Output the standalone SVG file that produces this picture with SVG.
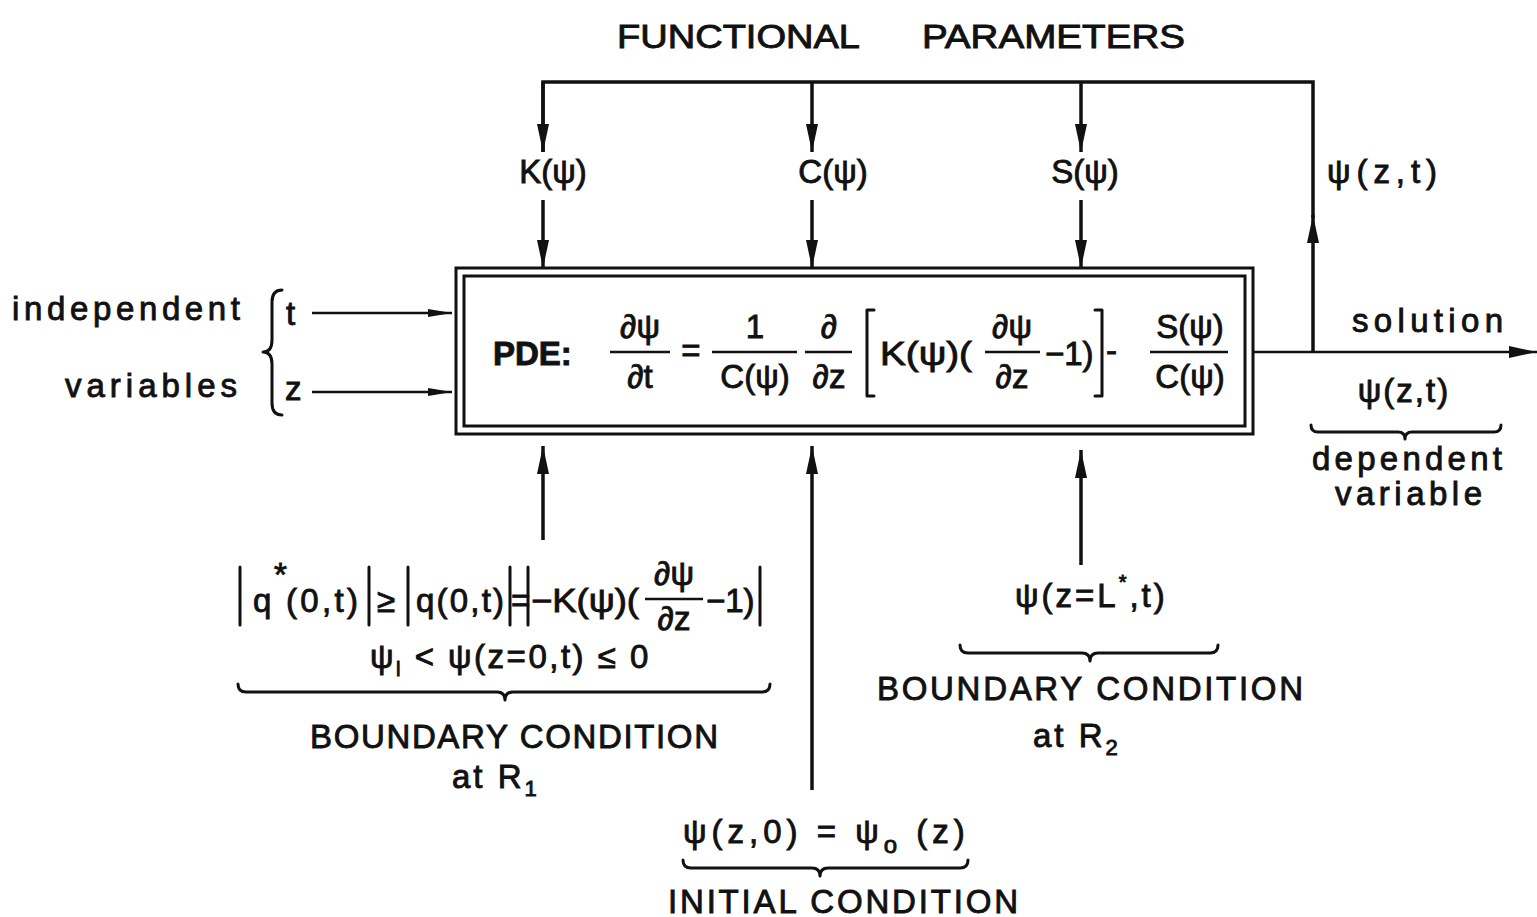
<svg xmlns="http://www.w3.org/2000/svg" width="1537" height="917" viewBox="0 0 1537 917">
<defs>
<style>
text{font-family:"Liberation Sans","DejaVu Sans",sans-serif;fill:#111;font-size:33px;stroke:#111;stroke-width:0.9}
.c{text-anchor:middle}
.b{font-weight:bold}
.ln{stroke:#111;stroke-width:3.5;fill:none}
.thin{stroke:#111;stroke-width:2.5;fill:none}
.br{stroke:#111;stroke-width:3;fill:none;stroke-linecap:round;stroke-linejoin:round}
.box{stroke:#111;stroke-width:3;fill:none}
</style>
<marker id="ah" markerUnits="userSpaceOnUse" markerWidth="30" markerHeight="14" refX="28" refY="7" orient="auto">
<path d="M0,1 L28,7 L0,13 z" fill="#111"/>
</marker>
<marker id="ahs" markerUnits="userSpaceOnUse" markerWidth="26" markerHeight="10" refX="24" refY="5" orient="auto">
<path d="M0,1 L24,5 L0,9 z" fill="#111"/>
</marker>
</defs>
<rect width="1537" height="917" fill="#fff"/>

<g id="connectors">
<path class="ln" d="M543,152 V82 H1313 V218"/>
<line class="ln" x1="543" y1="82" x2="543" y2="152" marker-end="url(#ah)"/>
<line class="ln" x1="812" y1="82" x2="812" y2="152" marker-end="url(#ah)"/>
<line class="ln" x1="1081" y1="82" x2="1081" y2="152" marker-end="url(#ah)"/>
<line class="ln" x1="543" y1="200" x2="543" y2="268" marker-end="url(#ah)"/>
<line class="ln" x1="812" y1="200" x2="812" y2="268" marker-end="url(#ah)"/>
<line class="ln" x1="1081" y1="200" x2="1081" y2="268" marker-end="url(#ah)"/>
<line class="ln" x1="1313" y1="352" x2="1313" y2="215" marker-end="url(#ah)"/>
<line class="thin" x1="1253" y1="352" x2="1537" y2="352" marker-end="url(#ah)"/>
<line class="thin" x1="312" y1="313" x2="452" y2="313" marker-end="url(#ahs)"/>
<line class="thin" x1="312" y1="392" x2="452" y2="392" marker-end="url(#ahs)"/>
<line class="ln" x1="543" y1="540" x2="543" y2="446" marker-end="url(#ah)"/>
<line class="ln" x1="812" y1="790" x2="812" y2="446" marker-end="url(#ah)"/>
<line class="ln" x1="1081" y1="565" x2="1081" y2="450" marker-end="url(#ah)"/>
</g>

<g id="title">
<text x="617" y="48" textLength="243" lengthAdjust="spacingAndGlyphs" font-size="34">FUNCTIONAL</text>
<text x="922" y="48" textLength="263" lengthAdjust="spacingAndGlyphs" font-size="34">PARAMETERS</text>
</g>

<g id="params">
<text x="553" y="183" class="c" font-size="34">K(ψ)</text>
<text x="833" y="183" class="c" font-size="34">C(ψ)</text>
<text x="1085" y="183" class="c" font-size="34">S(ψ)</text>
<text x="1327" y="183" textLength="110" lengthAdjust="spacing" font-size="34">ψ(z,t)</text>
</g>

<g id="pde-box">
<rect class="box" x="456" y="268" width="797" height="166"/>
<rect class="box" x="464" y="276" width="781" height="150"/>
<text x="493" y="365" class="b" font-size="35">PDE:</text>
<text x="640" y="338" class="c" font-size="35">∂ψ</text>
<line class="thin" x1="610" y1="352" x2="670" y2="352"/>
<text x="640" y="388" class="c" font-size="35">∂t</text>
<text x="691" y="362" class="c" font-size="30">=</text>
<text x="755" y="338" class="c" font-size="34">1</text>
<line class="thin" x1="712" y1="352" x2="797" y2="352"/>
<text x="755" y="388" class="c" font-size="35">C(ψ)</text>
<text x="829" y="338" class="c" font-size="35">∂</text>
<line class="thin" x1="805" y1="352" x2="852" y2="352"/>
<text x="829" y="388" class="c" font-size="35">∂z</text>
<path class="br" d="M874,310 H867 V396 H874"/>
<text x="880" y="365" font-size="33" textLength="92" lengthAdjust="spacingAndGlyphs">K(ψ)(</text>
<text x="1012" y="338" class="c" font-size="35">∂ψ</text>
<line class="thin" x1="985" y1="352" x2="1040" y2="352"/>
<text x="1012" y="388" class="c" font-size="35">∂z</text>
<text x="1045" y="365" font-size="33">−1)</text>
<path class="br" d="M1095,310 H1102 V396 H1095"/>
<text x="1106" y="362" font-size="30">-</text>
<text x="1190" y="338" class="c" font-size="35">S(ψ)</text>
<line class="thin" x1="1150" y1="352" x2="1228" y2="352"/>
<text x="1190" y="388" class="c" font-size="35">C(ψ)</text>
</g>

<g id="independent-vars">
<text x="12" y="320" textLength="228" lengthAdjust="spacing" font-size="34">independent</text>
<text x="65" y="397" textLength="172" lengthAdjust="spacing" font-size="34">variables</text>
<path class="br" d="M282,290 Q272,290 272,302 V340 Q272,352 263,352 Q272,352 272,364 V403 Q272,415 282,415"/>
<text x="286" y="325">t</text>
<text x="285" y="400">z</text>
</g>

<g id="solution">
<text x="1352" y="332" textLength="151" lengthAdjust="spacing" font-size="34">solution</text>
<text x="1404" y="402" class="c" font-size="34" letter-spacing="2">ψ(z,t)</text>
<path class="br" d="M1311,425 Q1311,432 1318,432 H1398 Q1405,432 1405,439 Q1405,432 1412,432 H1494 Q1501,432 1501,425"/>
<text x="1312" y="470" textLength="190" lengthAdjust="spacing" font-size="34">dependent</text>
<text x="1335" y="505" textLength="147" lengthAdjust="spacing" font-size="34">variable</text>
</g>

<g id="bc-r1">
<line class="br" x1="240" y1="567" x2="240" y2="625"/>
<text x="253" y="612" font-size="33">q</text>
<text x="274" y="586" font-size="22">*</text>
<text x="286" y="612" font-size="33" textLength="72" lengthAdjust="spacing">(0,t)</text>
<line class="br" x1="369" y1="567" x2="369" y2="625"/>
<text x="377" y="612" font-size="30">≥</text>
<line class="br" x1="408" y1="567" x2="408" y2="625"/>
<text x="416" y="612" font-size="33" textLength="88" lengthAdjust="spacing">q(0,t)</text>
<line class="br" x1="510" y1="567" x2="510" y2="625"/>
<text x="511" y="612" font-size="24">=</text>
<line class="br" x1="528" y1="567" x2="528" y2="625"/>
<text x="531" y="612" font-size="33" textLength="108" lengthAdjust="spacingAndGlyphs">−K(ψ)(</text>
<text x="674" y="585" class="c" font-size="33">∂ψ</text>
<line class="thin" x1="645" y1="599" x2="703" y2="599"/>
<text x="674" y="630" class="c" font-size="33">∂z</text>
<text x="706" y="612" font-size="33">−1)</text>
<line class="br" x1="760" y1="567" x2="760" y2="625"/>
<text x="370" y="668" font-size="34" letter-spacing="2.5">ψ<tspan font-size="20" dy="8">l</tspan><tspan dy="-8"> &lt; ψ(z=0,t) ≤ 0</tspan></text>
<path class="br" d="M238,684 Q238,692 246,692 H497 Q505,692 505,700 Q505,692 513,692 H762 Q770,692 770,684"/>
<text x="514" y="748" class="c" textLength="408" lengthAdjust="spacing" font-size="34">BOUNDARY CONDITION</text>
<text x="452" y="788" font-size="34" letter-spacing="3">at R<tspan font-size="22" dy="8">1</tspan></text>
</g>

<g id="bc-r2">
<text x="1015" y="607" font-size="34" letter-spacing="3">ψ(z=L<tspan font-size="20" dy="-18">*</tspan><tspan dy="18">,t)</tspan></text>
<path class="br" d="M960,645 Q960,653 968,653 H1082 Q1090,653 1090,661 Q1090,653 1098,653 H1210 Q1218,653 1218,645"/>
<text x="1090" y="700" class="c" textLength="426" lengthAdjust="spacing" font-size="34">BOUNDARY CONDITION</text>
<text x="1033" y="747" font-size="34" letter-spacing="3">at R<tspan font-size="22" dy="8">2</tspan></text>
</g>

<g id="ic">
<text x="683" y="843" font-size="35" letter-spacing="5">ψ(z,0) = ψ<tspan font-size="24" dy="10">o</tspan><tspan dy="-10"> (z)</tspan></text>
<path class="br" d="M683,860 Q683,868 691,868 H812 Q820,868 820,876 Q820,868 828,868 H960 Q968,868 968,860"/>
<text x="843" y="913" class="c" textLength="350" lengthAdjust="spacing" font-size="34">INITIAL CONDITION</text>
</g>
</svg>
